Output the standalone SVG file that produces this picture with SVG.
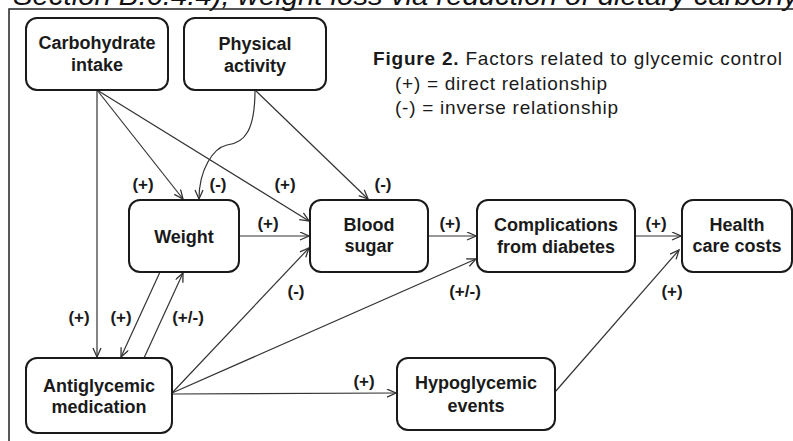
<svg xmlns="http://www.w3.org/2000/svg" width="793" height="441" viewBox="0 0 793 441">
<style>
.box{fill:#fff;stroke:#1a1a1a;stroke-width:2}
.nt{font-family:"Liberation Sans",Arial,sans-serif;font-weight:bold;font-size:18px;fill:#1a1a1a;text-anchor:middle}
.lb{font-family:"Liberation Sans",Arial,sans-serif;font-weight:bold;font-size:17px;fill:#1a1a1a;text-anchor:middle}
.lg{font-family:"Liberation Sans",Arial,sans-serif;font-size:19px;fill:#1a1a1a}
.cn{fill:none;stroke:#333;stroke-width:1.2;marker-end:url(#ah)}
</style>
<defs>
<marker id="ah" markerUnits="userSpaceOnUse" markerWidth="12" markerHeight="10" refX="10" refY="4.5" orient="auto">
<path d="M1,0.5 L10,4.5 L1,8.5" fill="none" stroke="#333" stroke-width="1.3"/>
</marker>
</defs>
<rect width="793" height="441" fill="#fff"/>
<text x="13" y="5" font-family="Liberation Sans,Arial,sans-serif" font-style="italic" font-size="27" fill="#111" textLength="785" lengthAdjust="spacingAndGlyphs">Section B.6.4.4), weight loss via reduction of dietary carbohy</text>
<path d="M9,441 L9,9 L793,9" fill="none" stroke="#222" stroke-width="1.5"/>
<g id="legend">
<text class="lg" x="373" y="65" textLength="409" lengthAdjust="spacing"><tspan font-weight="bold">Figure 2.</tspan> Factors related to glycemic control</text>
<text class="lg" x="395" y="90" textLength="212" lengthAdjust="spacing">(+) = direct relationship</text>
<text class="lg" x="395" y="114" textLength="223" lengthAdjust="spacing">(-) = inverse relationship</text>
</g>
<g id="connectors">
<path class="cn" d="M97,90 L97,357"/>
<path class="cn" d="M97,90 L183,199"/>
<path class="cn" d="M97,90 L309,221"/>
<path class="cn" d="M255,90 C255,130 245,143 227,145 C213,148 199,170 199,199"/>
<path class="cn" d="M255,90 L368,199"/>
<path class="cn" d="M239,236 L309,236"/>
<path class="cn" d="M160,272 L121,357"/>
<path class="cn" d="M144,358 L183,273"/>
<path class="cn" d="M172,393 L309,248"/>
<path class="cn" d="M172,393 L476,259"/>
<path class="cn" d="M172,394 L396,393"/>
<path class="cn" d="M428,236 L476,236"/>
<path class="cn" d="M635,236 L681,236"/>
<path class="cn" d="M555,392 L679,250"/>
</g>
<g id="labels">
<text class="lb" x="143" y="190">(+)</text>
<text class="lb" x="218" y="190">(-)</text>
<text class="lb" x="285" y="190">(+)</text>
<text class="lb" x="383" y="190">(-)</text>
<text class="lb" x="268" y="229">(+)</text>
<text class="lb" x="450" y="229">(+)</text>
<text class="lb" x="656" y="229">(+)</text>
<text class="lb" x="296" y="297">(-)</text>
<text class="lb" x="465" y="297">(+/-)</text>
<text class="lb" x="672" y="297">(+)</text>
<text class="lb" x="79" y="323">(+)</text>
<text class="lb" x="121" y="323">(+)</text>
<text class="lb" x="188" y="323">(+/-)</text>
<text class="lb" x="364" y="387">(+)</text>
</g>
<g id="carb"><rect class="box" x="26" y="18" width="142" height="72" rx="11"/><text class="nt" x="97" y="49">Carbohydrate</text><text class="nt" x="97" y="71">intake</text></g>
<g id="phys"><rect class="box" x="184" y="18" width="142" height="72" rx="11"/><text class="nt" x="255" y="50">Physical</text><text class="nt" x="255" y="72">activity</text></g>
<g id="weight"><rect class="box" x="129" y="200" width="110" height="72" rx="11"/><text class="nt" x="184" y="243">Weight</text></g>
<g id="blood"><rect class="box" x="310" y="200" width="118" height="72" rx="11"/><text class="nt" x="369" y="231">Blood</text><text class="nt" x="369" y="252">sugar</text></g>
<g id="comp"><rect class="box" x="477" y="200" width="158" height="72" rx="11"/><text class="nt" x="556" y="231">Complications</text><text class="nt" x="556" y="253">from diabetes</text></g>
<g id="health"><rect class="box" x="682" y="200" width="110" height="72" rx="11"/><text class="nt" x="737" y="231">Health</text><text class="nt" x="737" y="252">care costs</text></g>
<g id="anti"><rect class="box" x="26" y="358" width="146" height="75" rx="11"/><text class="nt" x="99" y="392">Antiglycemic</text><text class="nt" x="99" y="413">medication</text></g>
<g id="hypo"><rect class="box" x="397" y="358" width="158" height="72" rx="11"/><text class="nt" x="476" y="389">Hypoglycemic</text><text class="nt" x="476" y="412">events</text></g>
</svg>
